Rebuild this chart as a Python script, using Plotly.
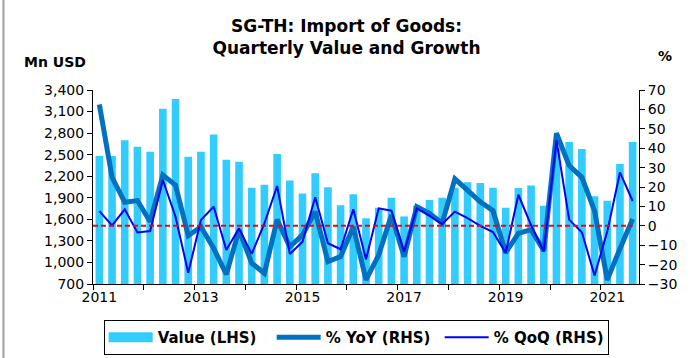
import plotly.graph_objects as go

# Quarterly periods 2011Q1 .. 2021Q3
years = [y for y in range(2011, 2022) for _ in range(4)][:43]
quarter_nums = ([1, 2, 3, 4] * 11)[:43]
quarters = [f"{y}Q{q}" for y, q in zip(years, quarter_nums)]

# Import value, Mn USD (left axis)
value_mn_usd = [
    2480, 2480, 2700, 2610, 2540, 3140, 3275, 2470,
    2540, 2780, 2430, 2400, 2040, 2080, 2510, 2140,
    1960, 2240, 2045, 1795, 1950, 1615, 1760, 1900,
    1640, 1790, 1870, 1900, 2040, 2115, 2105, 2040,
    1760, 2035, 2070, 1790, 2590, 2675, 2580, 1920,
    1860, 2370, 2675,
]

# Year-on-year growth, % (right axis)
yoy_pct = [
    62.5, 25.0, 12.1, 13.0, 2.1, 26.2, 21.0, -5.1,
    -0.5, -11.6, -25.0, -2.2, -19.3, -24.5, 3.2, -10.8,
    -4.7, 7.3, -18.5, -15.9, -0.5, -27.9, -15.1, 5.6,
    -15.9, 9.9, 6.4, 1.3, 24.2, 18.5, 12.4, 7.8,
    -13.9, -3.9, -2.0, -12.8, 47.7, 31.0, 25.0, 7.7,
    -27.9, -11.8, 3.5,
]

# Quarter-on-quarter growth, % (right axis)
qoq_pct = [
    7.6, 0.2, 8.5, -3.4, -2.7, 23.6, 4.7, -24.2,
    3.0, 9.9, -12.5, -1.3, -14.5, 1.3, 20.5, -14.5,
    -8.2, 14.7, -9.0, -12.1, 8.5, -17.3, 9.0, 7.8,
    -13.3, 9.0, 5.1, 0.9, 7.3, 3.9, 0.0, -3.2,
    -13.9, 16.0, 0.4, -13.3, 44.2, 3.2, -3.3, -25.6,
    -3.0, 27.5, 12.8,
]

year_labels = [2011, 2013, 2015, 2017, 2019, 2021]
left_ticks = [700, 1000, 1300, 1600, 1900, 2200, 2500, 2800, 3100, 3400]
right_ticks = list(range(-30, 80, 10))

BAR_COLOR = "#33CCFF"
YOY_COLOR = "#0070C0"
QOQ_COLOR = "#0000FF"

# numeric time position: Q1 sits on the year value, quarters 0.25 apart
xpos = [y + (q - 1) / 4 for y, q in zip(years, quarter_nums)]

FONT = "DejaVu Sans"

fig = go.Figure()

fig.add_trace(go.Bar(
    x=xpos, y=value_mn_usd, name="Value (LHS)", customdata=quarters,
    marker=dict(color=BAR_COLOR, line=dict(width=0)),
    yaxis="y", showlegend=False, legendgroup="value",
))
# wide swatch for the bar series in the legend
fig.add_trace(go.Scatter(
    x=[None], y=[None], name="Value (LHS)", mode="lines",
    line=dict(color=BAR_COLOR, width=12), legendgroup="value",
))
fig.add_trace(go.Scatter(
    x=xpos, y=yoy_pct, name="% YoY (RHS)", mode="lines", customdata=quarters,
    line=dict(color=YOY_COLOR, width=5), yaxis="y2",
))
fig.add_trace(go.Scatter(
    x=xpos, y=qoq_pct, name="% QoQ (RHS)", mode="lines", customdata=quarters,
    line=dict(color=QOQ_COLOR, width=2), yaxis="y2",
))

# zero reference on the growth axis
fig.add_shape(type="line", xref="x", yref="y2",
              x0=xpos[0] - 0.125, x1=xpos[-1], y0=0, y1=0,
              line=dict(color="#FF0000", width=2, dash="5px,3px"), layer="above")

# outer frame edge on the left
fig.add_shape(type="line", xref="paper", yref="paper",
              x0=-0.164, x1=-0.164, y0=-0.39, y1=1.47,
              line=dict(color="#A0A0A0", width=2))

fig.update_layout(
    width=693, height=358,
    margin=dict(l=93, r=54, t=90, b=74, autoexpand=False),
    paper_bgcolor="white", plot_bgcolor="white",
    font=dict(family=FONT, size=14, color="black"),
    title=dict(
        text="SG-TH: Import of Goods:<br>Quarterly Value and Growth",
        x=0.5, xref="container", xanchor="center",
        y=0.911, yref="container", yanchor="top",
        font=dict(family=FONT, size=17, color="black", weight="bold"),
    ),
    bargap=0.4,
    showlegend=True,
    legend=dict(
        orientation="h", x=0.482, xanchor="center", y=-0.186, yanchor="top",
        bordercolor="black", borderwidth=1,
        font=dict(family=FONT, size=15, weight="bold"),
        itemwidth=44, entrywidth=109, entrywidthmode="pixels",
        tracegroupgap=0,
    ),
    xaxis=dict(
        range=[xpos[0] - 0.125, xpos[-1] + 0.125],
        tickvals=year_labels, ticktext=[str(y) for y in year_labels],
        ticks="", showgrid=False, zeroline=False,
        showline=True, linecolor="black", linewidth=1,
        minor=dict(tick0=2010.875, dtick=1, ticks="outside", ticklen=5,
                   tickcolor="black", showgrid=False),
        tickfont=dict(size=14),
    ),
    yaxis=dict(
        range=[700, 3400], tickvals=left_ticks, tickformat=",",
        ticks="outside", ticklen=5, tickcolor="black",
        showline=True, linecolor="black", linewidth=1,
        showgrid=False, zeroline=False,
    ),
    yaxis2=dict(
        range=[-30, 70], tickvals=right_ticks, overlaying="y", side="right",
        ticks="outside", ticklen=5, tickcolor="black",
        showline=True, linecolor="black", linewidth=1,
        showgrid=False, zeroline=False,
    ),
    annotations=[
        dict(text="<b>Mn USD</b>", xref="paper", yref="paper",
             x=-0.13, y=1.145, xanchor="left", yanchor="middle",
             showarrow=False, font=dict(size=14)),
        dict(text="<b>%</b>", xref="paper", yref="paper",
             x=1.032, y=1.175, xanchor="left", yanchor="middle",
             showarrow=False, font=dict(size=14)),
    ],
)

fig.write_html("out.html")
